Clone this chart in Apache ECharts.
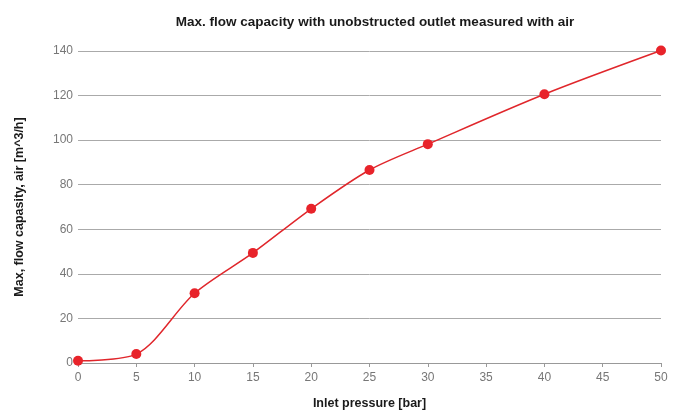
<!DOCTYPE html>
<html><head><meta charset="utf-8">
<script src="https://cdn.jsdelivr.net/npm/echarts@6/dist/echarts.min.js"></script>
<style>html,body{margin:0;padding:0;background:#fff}#c{width:678px;height:410px}</style>
</head><body><div id="c"></div>
<script>
const pressure = [0, 5, 10, 15, 20, 25, 30, 40, 50];
const flow = [1, 4, 31.3, 49.4, 69.2, 86.6, 98.2, 120.6, 140.2];
const titleText = 'Max. flow capacity with unobstructed outlet measured with air';
const xName = 'Inlet pressure [bar]';
const yName = 'Max, flow capasity, air [m^3/h]';

const chart = echarts.init(document.getElementById('c'), null, {renderer: 'canvas'});
const F = '"Liberation Sans", Arial, sans-serif';
chart.setOption({
  animation: false,
  title: {text: titleText, left: 370, top: 10, textAlign: 'center',
    textStyle: {fontFamily: F, fontSize: 13.5, fontWeight: 'bold', color: '#1a1a1a'}},
  grid: {left: 78, right: 17, top: 51, bottom: 47, containLabel: false, outerBoundsMode: 'none'},
  xAxis: {type: 'value', min: 0, max: 50, interval: 5,
    name: xName, nameLocation: 'middle', nameGap: 34,
    nameTextStyle: {fontFamily: F, fontSize: 12.5, fontWeight: 'bold', color: '#1a1a1a'},
    axisLine: {lineStyle: {color: '#999', width: 1}},
    axisTick: {show: true, length: 4, lineStyle: {color: '#999'}},
    axisLabel: {fontFamily: F, fontSize: 12, color: '#777', margin: 9},
    splitLine: {show: false}},
  yAxis: {type: 'value', min: 0, max: 140, interval: 20,
    name: yName, nameLocation: 'middle', nameGap: 52, nameRotate: 90,
    nameTextStyle: {fontFamily: F, fontSize: 12.5, fontWeight: 'bold', color: '#1a1a1a'},
    axisLine: {show: false}, axisTick: {show: false},
    axisLabel: {fontFamily: F, fontSize: 12, color: '#777', margin: 5},
    splitLine: {lineStyle: {color: '#aaa', width: 1}}},
  series: [{type: 'line', data: pressure.map((p, i) => [p, flow[i]]),
    smooth: 0.3, symbol: 'circle', symbolSize: 10, clip: false,
    lineStyle: {color: '#e0262b', width: 1.5},
    itemStyle: {color: '#e8232a'}}]
});
</script></body></html>
